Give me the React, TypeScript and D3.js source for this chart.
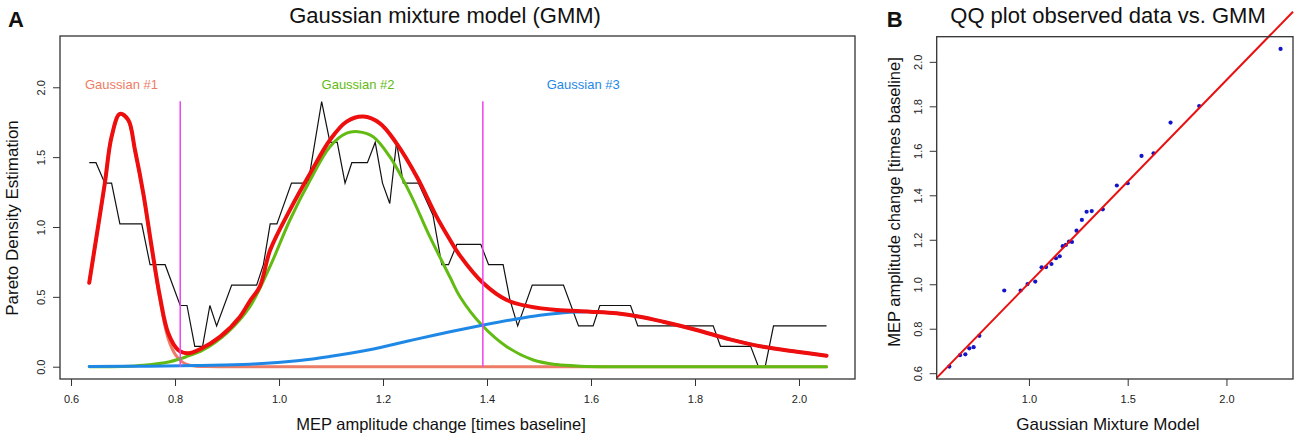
import { useEffect, useRef } from "react"
import * as d3 from "d3"

// ---- panel A: Pareto density estimate (black step line) ----
const pdeX = [0.635, 0.648, 0.665, 0.678, 0.694, 0.736, 0.752, 0.781, 0.810, 0.823, 0.838, 0.853, 0.867, 0.880, 0.909, 0.957, 0.970, 0.983, 0.996, 1.024, 1.056, 1.082, 1.098, 1.112, 1.127, 1.140, 1.170, 1.185, 1.199, 1.213, 1.226, 1.239, 1.268, 1.296, 1.313, 1.326, 1.342, 1.388, 1.403, 1.431, 1.444, 1.459, 1.487, 1.547, 1.576, 1.604, 1.617, 1.676, 1.690, 1.835, 1.849, 1.907, 1.922, 1.935, 1.951, 2.053]
const pdeY = [1.460, 1.460, 1.314, 1.314, 1.022, 1.022, 0.730, 0.730, 0.438, 0.438, 0.146, 0.146, 0.438, 0.292, 0.584, 0.584, 0.730, 1.022, 1.022, 1.314, 1.314, 1.898, 1.606, 1.606, 1.314, 1.460, 1.460, 1.606, 1.314, 1.168, 1.606, 1.314, 1.314, 1.086, 0.730, 0.730, 0.876, 0.876, 0.730, 0.730, 0.480, 0.292, 0.584, 0.584, 0.292, 0.292, 0.438, 0.438, 0.292, 0.292, 0.146, 0.146, 0, 0, 0.292, 0.292]

// ---- mixture (red) ----
const mixX = [0.635, 0.649, 0.665, 0.678, 0.694, 0.710, 0.723, 0.739, 0.755, 0.771, 0.787, 0.806, 0.826, 0.848, 0.887, 0.925, 0.944, 0.963, 0.983, 1.021, 1.060, 1.098, 1.130, 1.162, 1.194, 1.226, 1.265, 1.303, 1.329, 1.348, 1.393, 1.438, 1.483, 1.534, 1.598, 1.649, 1.694, 1.739, 1.803, 1.867, 1.931, 1.996, 2.053]
const mixY = [0.601, 0.931, 1.313, 1.646, 1.809, 1.766, 1.551, 1.241, 0.859, 0.501, 0.239, 0.120, 0.096, 0.125, 0.215, 0.358, 0.470, 0.573, 0.835, 1.122, 1.384, 1.623, 1.754, 1.790, 1.742, 1.599, 1.360, 1.074, 0.907, 0.795, 0.597, 0.477, 0.430, 0.406, 0.394, 0.382, 0.358, 0.322, 0.263, 0.196, 0.143, 0.107, 0.079]

// ---- Gaussian #1 (salmon) ----
const g1X = [0.635, 0.649, 0.665, 0.678, 0.694, 0.710, 0.723, 0.739, 0.755, 0.771, 0.787, 0.800, 0.813, 0.826, 0.840, 0.860, 0.900, 1.200, 1.600, 2.053]
const g1Y = [0.600, 0.930, 1.310, 1.645, 1.806, 1.763, 1.548, 1.236, 0.850, 0.480, 0.200, 0.090, 0.036, 0.012, 0.004, 0.001, 0, 0, 0, 0]

// ---- Gaussian #2 (green) ----
const g2X = [0.635, 0.700, 0.739, 0.790, 0.822, 0.854, 0.899, 0.944, 0.983, 1.021, 1.060, 1.098, 1.130, 1.152, 1.181, 1.213, 1.252, 1.290, 1.329, 1.348, 1.390, 1.438, 1.489, 1.534, 1.580, 1.650, 1.800, 2.053]
const g2Y = [0, 0.002, 0.010, 0.036, 0.072, 0.120, 0.239, 0.430, 0.720, 1.050, 1.336, 1.575, 1.671, 1.682, 1.646, 1.503, 1.241, 0.931, 0.640, 0.501, 0.298, 0.143, 0.048, 0.015, 0.004, 0, 0, 0]

// ---- Gaussian #3 (blue) ----
const g3X = [0.635, 0.750, 0.850, 0.944, 1.040, 1.100, 1.169, 1.201, 1.260, 1.329, 1.393, 1.451, 1.502, 1.560, 1.598, 1.649, 1.694, 1.739, 1.803, 1.867, 1.931, 1.996, 2.053]
const g3Y = [0.002, 0.004, 0.009, 0.018, 0.045, 0.075, 0.118, 0.143, 0.194, 0.250, 0.298, 0.338, 0.368, 0.390, 0.394, 0.382, 0.358, 0.322, 0.263, 0.196, 0.143, 0.107, 0.079]

const cutX = [0.810, 1.392]
const cutTop = 1.9

const gaussLabels = ["Gaussian #1", "Gaussian #2", "Gaussian #3"]
const gaussLabelX = [0.697, 1.152, 1.585]
const gaussLabelY = 1.99

const xTicksA = [0.6, 0.8, 1.0, 1.2, 1.4, 1.6, 1.8, 2.0]
const yTicksA = [0, 0.5, 1.0, 1.5, 2.0]

// ---- panel B: QQ plot ----
const qqModel = [0.597, 0.651, 0.678, 0.698, 0.720, 0.749, 0.875, 0.958, 0.993, 1.032, 1.064, 1.087, 1.114, 1.137, 1.156, 1.171, 1.187, 1.203, 1.218, 1.241, 1.268, 1.292, 1.318, 1.374, 1.445, 1.500, 1.570, 1.631, 1.717, 1.862, 2.274]
const qqObserved = [0.630, 0.681, 0.685, 0.712, 0.717, 0.768, 0.972, 0.972, 1.001, 1.012, 1.076, 1.077, 1.091, 1.117, 1.126, 1.171, 1.177, 1.192, 1.190, 1.241, 1.289, 1.326, 1.329, 1.337, 1.444, 1.454, 1.577, 1.589, 1.727, 1.801, 2.058]
const qqIntercept = 0.0925
const qqSlope = 0.9127

const xTicksB = [1.0, 1.5, 2.0]
const yTicksB = [0.6, 0.8, 1.0, 1.2, 1.4, 1.6, 1.8, 2.0]

export default function App() {

  const ref = useRef<SVGSVGElement | null>(null)

  useEffect(() => {

    const svg = d3.select(ref.current)
    svg.selectAll("*").remove()

    const font = "'Liberation Sans', Arial, Helvetica, sans-serif"
    const ink = "#222"
    svg.attr("font-family", font)

    const fmt = d3.format(".1f")

    function styleAxis(g: d3.Selection<SVGGElement, unknown, null, undefined>) {
      g.attr("font-family", font).attr("font-size", 11)
      g.select(".domain").remove()
      g.selectAll(".tick line").attr("stroke", "#333")
      g.selectAll(".tick text").attr("fill", ink)
    }

    function rotateY(g: d3.Selection<SVGGElement, unknown, null, undefined>) {
      g.selectAll(".tick text")
        .attr("transform", "rotate(-90)")
        .attr("x", 0)
        .attr("y", -15)
        .attr("dy", 0)
        .attr("text-anchor", "middle")
    }

    // ================= panel A =================
    const xA = d3.scaleLinear().domain([0.5788, 2.1077]).range([60, 855])
    const yA = d3.scaleLinear().domain([-0.088, 2.367]).range([379, 36])

    const gxA = svg.append("g")
      .attr("transform", "translate(0,379)")
      .call(d3.axisBottom(xA).tickValues(xTicksA).tickFormat(d => fmt(+d)).tickSize(7).tickSizeOuter(0).tickPadding(9))
    styleAxis(gxA)

    const gyA = svg.append("g")
      .attr("transform", "translate(60,0)")
      .call(d3.axisLeft(yA).tickValues(yTicksA).tickFormat(d => fmt(+d)).tickSize(7).tickSizeOuter(0))
    styleAxis(gyA)
    rotateY(gyA)

    const lineA = (curve: d3.CurveFactory) => d3.line<[number, number]>()
      .x(d => xA(d[0]))
      .y(d => yA(d[1]))
      .curve(curve)

    svg.append("path")
      .attr("d", lineA(d3.curveLinear)(d3.zip(pdeX, pdeY) as [number, number][]))
      .attr("fill", "none")
      .attr("stroke", "#111")
      .attr("stroke-width", 1.2)

    const comps = [
      { xs: g1X, ys: g1Y, color: "#ec7c66", w: 3 },
      { xs: g2X, ys: g2Y, color: "#62bb12", w: 3 },
      { xs: g3X, ys: g3Y, color: "#1f88e6", w: 3 },
      { xs: mixX, ys: mixY, color: "#ee0e0e", w: 4 },
    ]
    comps.forEach(c => {
      svg.append("path")
        .attr("d", lineA(d3.curveCatmullRom)(d3.zip(c.xs, c.ys) as [number, number][]))
        .attr("fill", "none")
        .attr("stroke", c.color)
        .attr("stroke-width", c.w)
        .attr("stroke-linejoin", "round")
        .attr("stroke-linecap", "round")
    })

    svg.selectAll(".cut")
      .data(cutX)
      .enter()
      .append("line")
      .attr("x1", d => xA(d))
      .attr("x2", d => xA(d))
      .attr("y1", yA(0))
      .attr("y2", yA(cutTop))
      .attr("stroke", "#ee44ee")
      .attr("stroke-width", 1.5)

    const labelColors = ["#ec7c66", "#62bb12", "#1f88e6"]
    svg.selectAll(".glabel")
      .data(gaussLabels)
      .enter()
      .append("text")
      .attr("x", (_, i) => xA(gaussLabelX[i]))
      .attr("y", yA(gaussLabelY))
      .attr("text-anchor", "middle")
      .attr("font-size", 13)
      .attr("fill", (_, i) => labelColors[i])
      .text(d => d)

    svg.append("rect")
      .attr("x", 60).attr("y", 36).attr("width", 795).attr("height", 343)
      .attr("fill", "none").attr("stroke", "#333").attr("stroke-width", 1.3)

    svg.append("text")
      .attr("x", 445).attr("y", 22.5)
      .attr("text-anchor", "middle").attr("font-size", 22).attr("fill", "#111")
      .text("Gaussian mixture model (GMM)")

    svg.append("text")
      .attr("x", 8).attr("y", 27)
      .attr("font-size", 22).attr("font-weight", "bold").attr("fill", "#111")
      .text("A")

    svg.append("text")
      .attr("x", 441).attr("y", 430)
      .attr("text-anchor", "middle").attr("font-size", 16.5).attr("fill", "#111")
      .text("MEP amplitude change [times baseline]")

    svg.append("text")
      .attr("transform", "translate(17.5,218) rotate(-90)")
      .attr("text-anchor", "middle").attr("font-size", 17).attr("fill", "#111")
      .text("Pareto Density Estimation")

    // ================= panel B =================
    const xB = d3.scaleLinear().domain([0.533, 2.337]).range([936.7, 1293])
    const yB = d3.scaleLinear().domain([0.574, 2.113]).range([379, 36.7])

    const gxB = svg.append("g")
      .attr("transform", "translate(0,379)")
      .call(d3.axisBottom(xB).tickValues(xTicksB).tickFormat(d => fmt(+d)).tickSize(7).tickSizeOuter(0).tickPadding(9))
    styleAxis(gxB)

    const gyB = svg.append("g")
      .attr("transform", "translate(936.7,0)")
      .call(d3.axisLeft(yB).tickValues(yTicksB).tickFormat(d => fmt(+d)).tickSize(7).tickSizeOuter(0))
    styleAxis(gyB)
    rotateY(gyB)

    svg.selectAll(".qq")
      .data(qqModel)
      .enter()
      .append("circle")
      .attr("cx", d => xB(d))
      .attr("cy", (_, i) => yB(qqObserved[i]))
      .attr("r", 2.1)
      .attr("fill", "#1414c8")

    const [lx0, lx1] = xB.domain()
    svg.append("line")
      .attr("x1", xB(lx0)).attr("y1", yB(qqIntercept + qqSlope * lx0))
      .attr("x2", xB(lx1)).attr("y2", yB(qqIntercept + qqSlope * lx1))
      .attr("stroke", "#e81010").attr("stroke-width", 2)

    svg.append("rect")
      .attr("x", 936.7).attr("y", 36.7).attr("width", 356.3).attr("height", 342.3)
      .attr("fill", "none").attr("stroke", "#333").attr("stroke-width", 1.3)

    svg.append("text")
      .attr("x", 1108).attr("y", 22.5)
      .attr("text-anchor", "middle").attr("font-size", 22).attr("fill", "#111")
      .text("QQ plot observed data vs. GMM")

    svg.append("text")
      .attr("x", 886.7).attr("y", 27)
      .attr("font-size", 22).attr("font-weight", "bold").attr("fill", "#111")
      .text("B")

    svg.append("text")
      .attr("x", 1108).attr("y", 430)
      .attr("text-anchor", "middle").attr("font-size", 17).attr("fill", "#111")
      .text("Gaussian Mixture Model")

    svg.append("text")
      .attr("transform", "translate(899.8,202) rotate(-90)")
      .attr("text-anchor", "middle").attr("font-size", 16.5).attr("fill", "#111")
      .text("MEP amplitude change [times baseline]")

  }, [])

  return (
    <svg
      ref={ref}
      width={1300}
      height={439}
      style={{ position: "absolute", left: 0, top: 0, background: "#fff" }}
    />
  )
}
